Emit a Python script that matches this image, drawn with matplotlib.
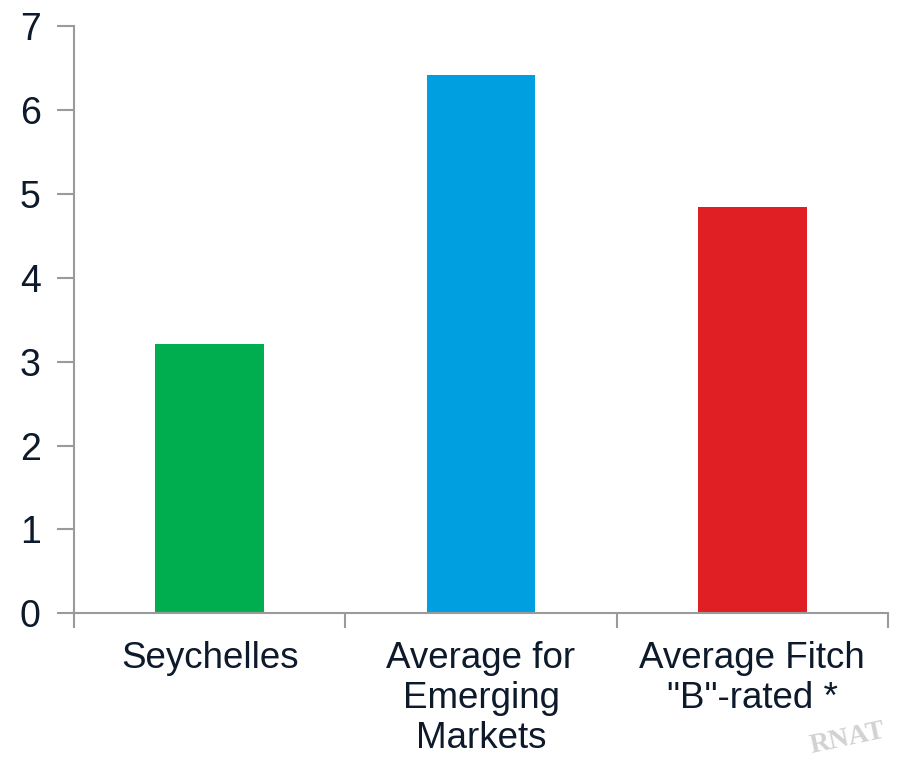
import matplotlib
matplotlib.use('Agg')
import matplotlib.pyplot as plt

categories = ["Seychelles", "Average for\nEmerging\nMarkets", "Average Fitch\n\"B\"-rated *"]
values = [3.21, 6.41, 4.84]
colors = ["#00AE4F", "#009FDF", "#E01F24"]
yticks = [0, 1, 2, 3, 4, 5, 6, 7]

plt.rcParams['font.family'] = ['Liberation Sans', 'DejaVu Sans']
text_color = "#0D1A2B"
axis_color = "#9A9A9A"

fig = plt.figure(figsize=(8.97, 7.6), dpi=100)
ax = fig.add_axes([0.0825, 0.193, 0.9075, 0.7728])

x = list(range(len(categories)))
ax.bar(x, values, width=0.4, color=colors, zorder=2)

ax.set_xlim(-0.5, len(categories) - 0.5)
ax.set_ylim(0, 7)
ax.set_yticks(yticks)
ax.set_yticklabels([str(v) for v in yticks])

# category labels sit between the boundary ticks
ax.set_xticks(x)
ax.set_xticklabels(categories, linespacing=1.19, va='top')
ax.tick_params(axis='x', length=0, pad=20, labelsize=26.5, labelcolor=text_color)
ax.set_xticks([i - 0.5 for i in range(len(categories) + 1)], minor=True)
ax.tick_params(axis='x', which='minor', length=11, width=1.5, color=axis_color, direction='out')
ax.tick_params(axis='y', length=12, width=1.5, color=axis_color, pad=12,
               labelsize=27, labelcolor=text_color)

for side in ['top', 'right']:
    ax.spines[side].set_visible(False)
for side in ['left', 'bottom']:
    ax.spines[side].set_color(axis_color)
    ax.spines[side].set_linewidth(1.5)

# faint stamp fragment in the corner
fig.text(0.945, 0.002, "RNAT", family='Liberation Serif', fontsize=20,
         color="#D2D2D2", rotation=12, ha='center', va='bottom', weight='bold')

plt.savefig("out.png", dpi=100)
